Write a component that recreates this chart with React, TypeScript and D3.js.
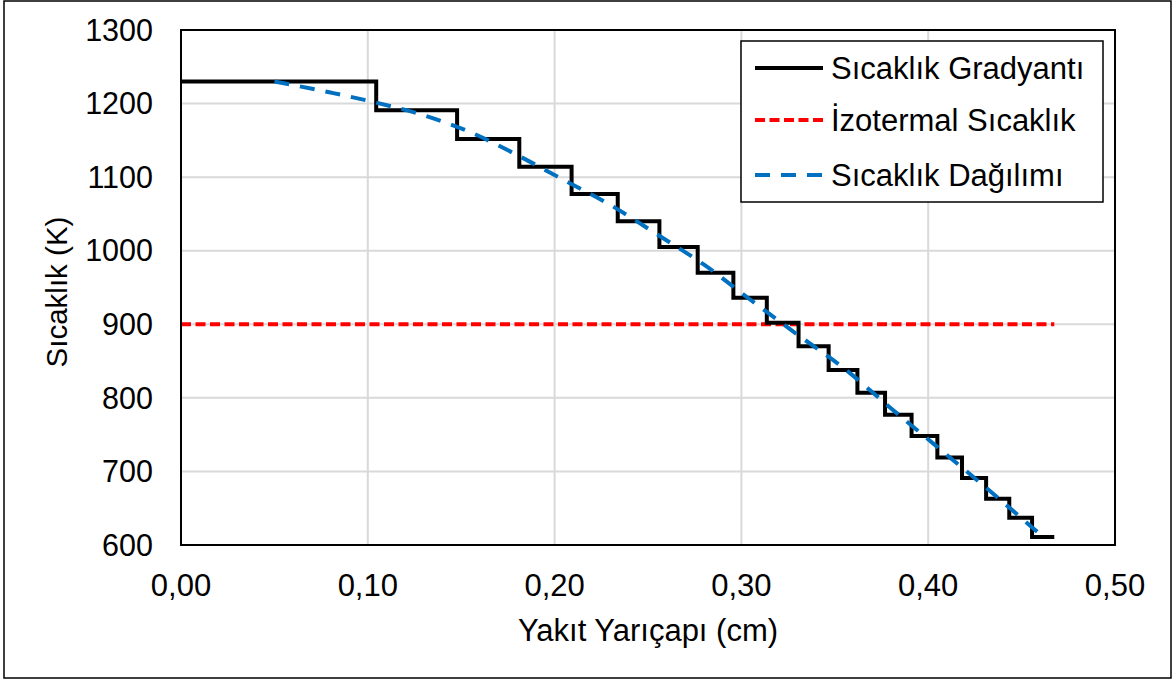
import React from "react";
import * as d3 from "d3";

const xTicks = [0, 0.1, 0.2, 0.3, 0.4, 0.5];
const yTicks = [600, 700, 800, 900, 1000, 1100, 1200, 1300];

// Temperature gradient (step) – ring boundaries (cm) and ring temperatures (K)
const stepRadii = [0, 0.1045, 0.1478, 0.1811, 0.2091, 0.2338, 0.2561, 0.2766, 0.2957, 0.3136, 0.3306, 0.3467, 0.3621, 0.3769, 0.3911, 0.4049, 0.4181, 0.431, 0.4434, 0.4556, 0.4675];
const stepTemps = [1230, 1191, 1152, 1114, 1077, 1040, 1005, 970, 936, 902, 870, 838, 807, 777, 748, 719, 691, 663, 637, 611];

// Isothermal temperature
const isoRadii = [0, 0.4675];
const isoTemp = 900;

// Temperature distribution (smooth)
const distRadii = [0.05, 0.08, 0.105, 0.13, 0.155, 0.18, 0.205, 0.23, 0.255, 0.28, 0.305, 0.33, 0.355, 0.38, 0.405, 0.43, 0.4615];
const distTemps = [1230, 1215, 1201, 1184, 1161, 1130, 1096, 1062, 1022, 981, 933, 886, 840, 786, 733, 680, 611];

const legendLabels = ["Sıcaklık Gradyantı", "İzotermal Sıcaklık", "Sıcaklık Dağılımı"];

const W = 1176, H = 684;
const M = { left: 181, right: 1115, top: 30, bottom: 545 };
const FONT = "'Liberation Sans', Arial, sans-serif";

export default function App() {
  const x = d3.scaleLinear().domain([0, 0.5]).range([M.left, M.right]);
  const y = d3.scaleLinear().domain([600, 1300]).range([M.bottom, M.top]);

  const stepPts: [number, number][] = stepTemps.map((t, i) => [stepRadii[i], t]);
  stepPts.push([stepRadii[stepRadii.length - 1], stepTemps[stepTemps.length - 1]]);
  const stepLine = d3.line<[number, number]>().x(d => x(d[0])).y(d => y(d[1])).curve(d3.curveStepAfter);
  const plainLine = d3.line<[number, number]>().x(d => x(d[0])).y(d => y(d[1]));
  const smoothLine = d3.line<[number, number]>().x(d => x(d[0])).y(d => y(d[1])).curve(d3.curveMonotoneX);
  const distPts: [number, number][] = distRadii.map((r, i) => [r, distTemps[i]]);
  const isoPts: [number, number][] = isoRadii.map(r => [r, isoTemp]);

  const fmt = (v: number) => v.toFixed(2).replace(".", ",");

  const legendStyles = [
    { stroke: "#000000", dash: undefined as string | undefined },
    { stroke: "#ff0000", dash: "10 4.5" },
    { stroke: "#0070c0", dash: "15 11" },
  ];
  const legendY = [68, 120, 175];

  return (
    <svg width={W} height={H} style={{ position: "absolute", left: 0, top: 0, background: "#fff" }} fontFamily={FONT}>
      <rect x={4} y={1} width={1167} height={677} fill="#fff" stroke="#000" strokeWidth={1.5} />
      {/* grid */}
      {xTicks.slice(1, -1).map(t => (
        <line key={"gx" + t} x1={x(t)} x2={x(t)} y1={M.top} y2={M.bottom} stroke="#d9d9d9" strokeWidth={2} />
      ))}
      {yTicks.slice(1, -1).map(t => (
        <line key={"gy" + t} x1={M.left} x2={M.right} y1={y(t)} y2={y(t)} stroke="#d9d9d9" strokeWidth={2} />
      ))}
      {/* series */}
      <path d={plainLine(isoPts) || ""} fill="none" stroke="#ff0000" strokeWidth={4} strokeDasharray="10 4.5" />
      <path d={stepLine(stepPts) || ""} fill="none" stroke="#000" strokeWidth={4} />
      <path d={smoothLine(distPts) || ""} fill="none" stroke="#0070c0" strokeWidth={4} strokeDasharray="15 11" />
      {/* plot border */}
      <rect x={M.left} y={M.top} width={M.right - M.left} height={M.bottom - M.top} fill="none" stroke="#000" strokeWidth={2} />
      {/* ticks */}
      {yTicks.map(t => (
        <text key={"ty" + t} x={153} y={y(t)} dy="0.35em" textAnchor="end" fontSize={30.5}>{t}</text>
      ))}
      {xTicks.map(t => (
        <text key={"tx" + t} x={x(t)} y={585} dy="0.35em" textAnchor="middle" fontSize={31}>{fmt(t)}</text>
      ))}
      <text x={648} y={630} dy="0.35em" textAnchor="middle" fontSize={31}>Yakıt Yarıçapı (cm)</text>
      <text transform={`translate(57,292) rotate(-90)`} dy="0.35em" textAnchor="middle" fontSize={29.5}>Sıcaklık (K)</text>
      {/* legend */}
      <rect x={741} y={41} width={362} height={161} fill="#fff" stroke="#000" strokeWidth={1.5} />
      {legendLabels.map((lab, i) => (
        <g key={lab}>
          <line x1={755} x2={823} y1={legendY[i]} y2={legendY[i]} stroke={legendStyles[i].stroke} strokeWidth={4} strokeDasharray={legendStyles[i].dash} />
          <text x={831} y={legendY[i]} dy="0.35em" fontSize={31}>{lab}</text>
        </g>
      ))}
    </svg>
  );
}
